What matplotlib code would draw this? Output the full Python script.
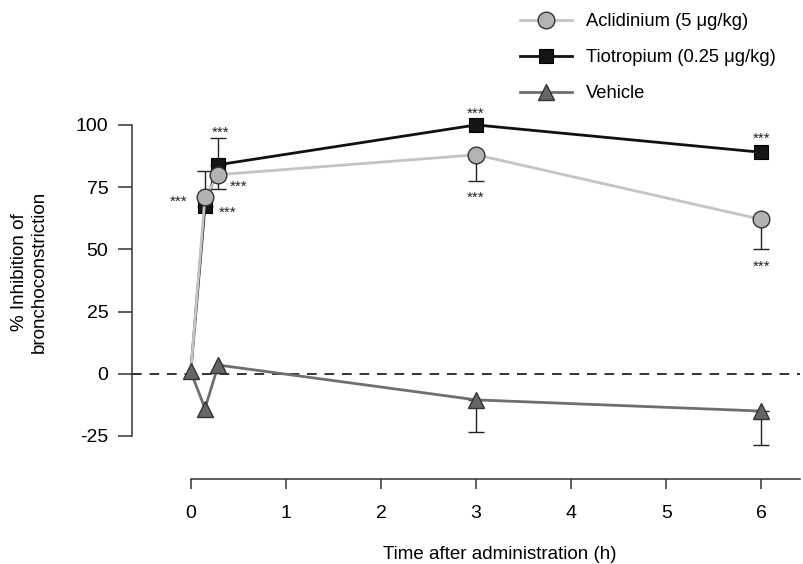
import numpy as np
import matplotlib
matplotlib.use("Agg")
import matplotlib.pyplot as plt

plt.rcParams['font.family'] = ['Liberation Sans', 'DejaVu Sans']
plt.rcParams['axes.unicode_minus'] = False

# Data
times = [0, 0.15, 0.29, 3, 6]
acl = [0.5, 71, 80, 88, 62]
tio = [0.5, 67.5, 84, 100, 89]
veh = [1, -14, 3.5, -10.5, -15]
acl_err_lo = [0, 0, 5.8, 10.7, 11.8]
tio_err_hi = [0, 13.8, 10.7, 0, 0]
veh_err_lo = [0, 0, 0, 12.9, 13.8]
xticks = [0, 1, 2, 3, 4, 5, 6]
yticks = [-25, 0, 25, 50, 75, 100]
labels = ['Aclidinium (5 μg/kg)', 'Tiotropium (0.25 μg/kg)', 'Vehicle']

# significance marks: (series, index, dx_px, dy_px)
stars = [('acl', 1, -26, -5), ('tio', 1, 23, -7), ('tio', 2, 2, 32),
         ('acl', 2, 20, -12), ('tio', 3, 0, 11), ('acl', 3, 0, -43),
         ('tio', 4, 0, 14), ('acl', 4, 0, -47)]

fig = plt.figure(figsize=(8.04, 5.64), dpi=100)
ax = fig.add_axes([132/804, 85/564, (800-132)/804, (479-110)/564])
ax.set_xlim(-0.617, 6.405)
ax.set_ylim(-42.3, 106.0)

c_acl_line, c_acl_fill = '#c4c4c4', '#b3b3b3'
c_tio = '#111111'
c_veh_line, c_veh_fill = '#6f6f6f', '#666666'

ax.axhline(0, color='#333333', lw=1.4, ls=(0, (5, 4)), zorder=1)

t = np.array(times)
def err(ax, y, lo, hi, color='#222222'):
    y = np.array(y); lo = np.array(lo); hi = np.array(hi)
    m = (lo > 0) | (hi > 0)
    ax.errorbar(t[m], y[m], yerr=[lo[m], hi[m]], fmt='none', ecolor=color,
                elinewidth=1.0, capsize=6, capthick=1.0, zorder=2)

zeros = [0]*len(times)
err(ax, tio, zeros, tio_err_hi)
err(ax, acl, acl_err_lo, zeros)
err(ax, veh, veh_err_lo, zeros)

mk = list(range(1, len(times)))
l_tio, = ax.plot(times, tio, '-s', color=c_tio, lw=2.0, ms=10.5, markevery=mk,
                 mfc='#151515', mec='#000000', mew=0.8, zorder=3, label=labels[1])
l_acl, = ax.plot(times, acl, '-o', color=c_acl_line, lw=2.0, ms=12, markevery=mk,
                 mfc=c_acl_fill, mec='#333333', mew=1.0, zorder=4, label=labels[0])
l_veh, = ax.plot(times, veh, '-^', color=c_veh_line, lw=2.0, ms=12,
                 mfc=c_veh_fill, mec='#333333', mew=1.0, zorder=5, label=labels[2])

series = {'acl': acl, 'tio': tio}
for s, i, dx, dy in stars:
    ax.annotate('***', (times[i], series[s][i]), xytext=(dx*0.72, dy*0.72),
                textcoords='offset points', ha='center', va='center',
                fontsize=11, color='#222222', zorder=6)

for side in ['top', 'right']:
    ax.spines[side].set_visible(False)
ax.spines['left'].set_bounds(-25, 100)
ax.spines['bottom'].set_bounds(0, 6.405)
for side in ['left', 'bottom']:
    ax.spines[side].set_linewidth(1.1)
    ax.spines[side].set_color('#333333')

ax.set_xticks(xticks)
ax.set_yticks(yticks)
ax.tick_params(axis='x', length=7, width=1.1, pad=12, labelsize=14, color='#333333')
ax.tick_params(axis='y', length=10, width=1.1, pad=7, labelsize=14, color='#333333')

ax.set_xlabel('Time after administration (h)', fontsize=13.5)
ax.xaxis.set_label_coords((500-132)/668, (479-546)/369)
ax.set_ylabel('% Inhibition of\nbronchoconstriction', fontsize=13.5, multialignment='center')
ax.yaxis.set_label_coords((48-132)/668, (479-272)/369)

fig.legend(handles=[l_acl, l_tio, l_veh], labels=labels, loc='upper left',
           bbox_to_anchor=(520/804, 1-13/564), frameon=False, fontsize=13.2,
           handlelength=2.85, handletextpad=0.75, labelspacing=1.05,
           borderpad=0, borderaxespad=0)

fig.savefig('out.png', dpi=100)
